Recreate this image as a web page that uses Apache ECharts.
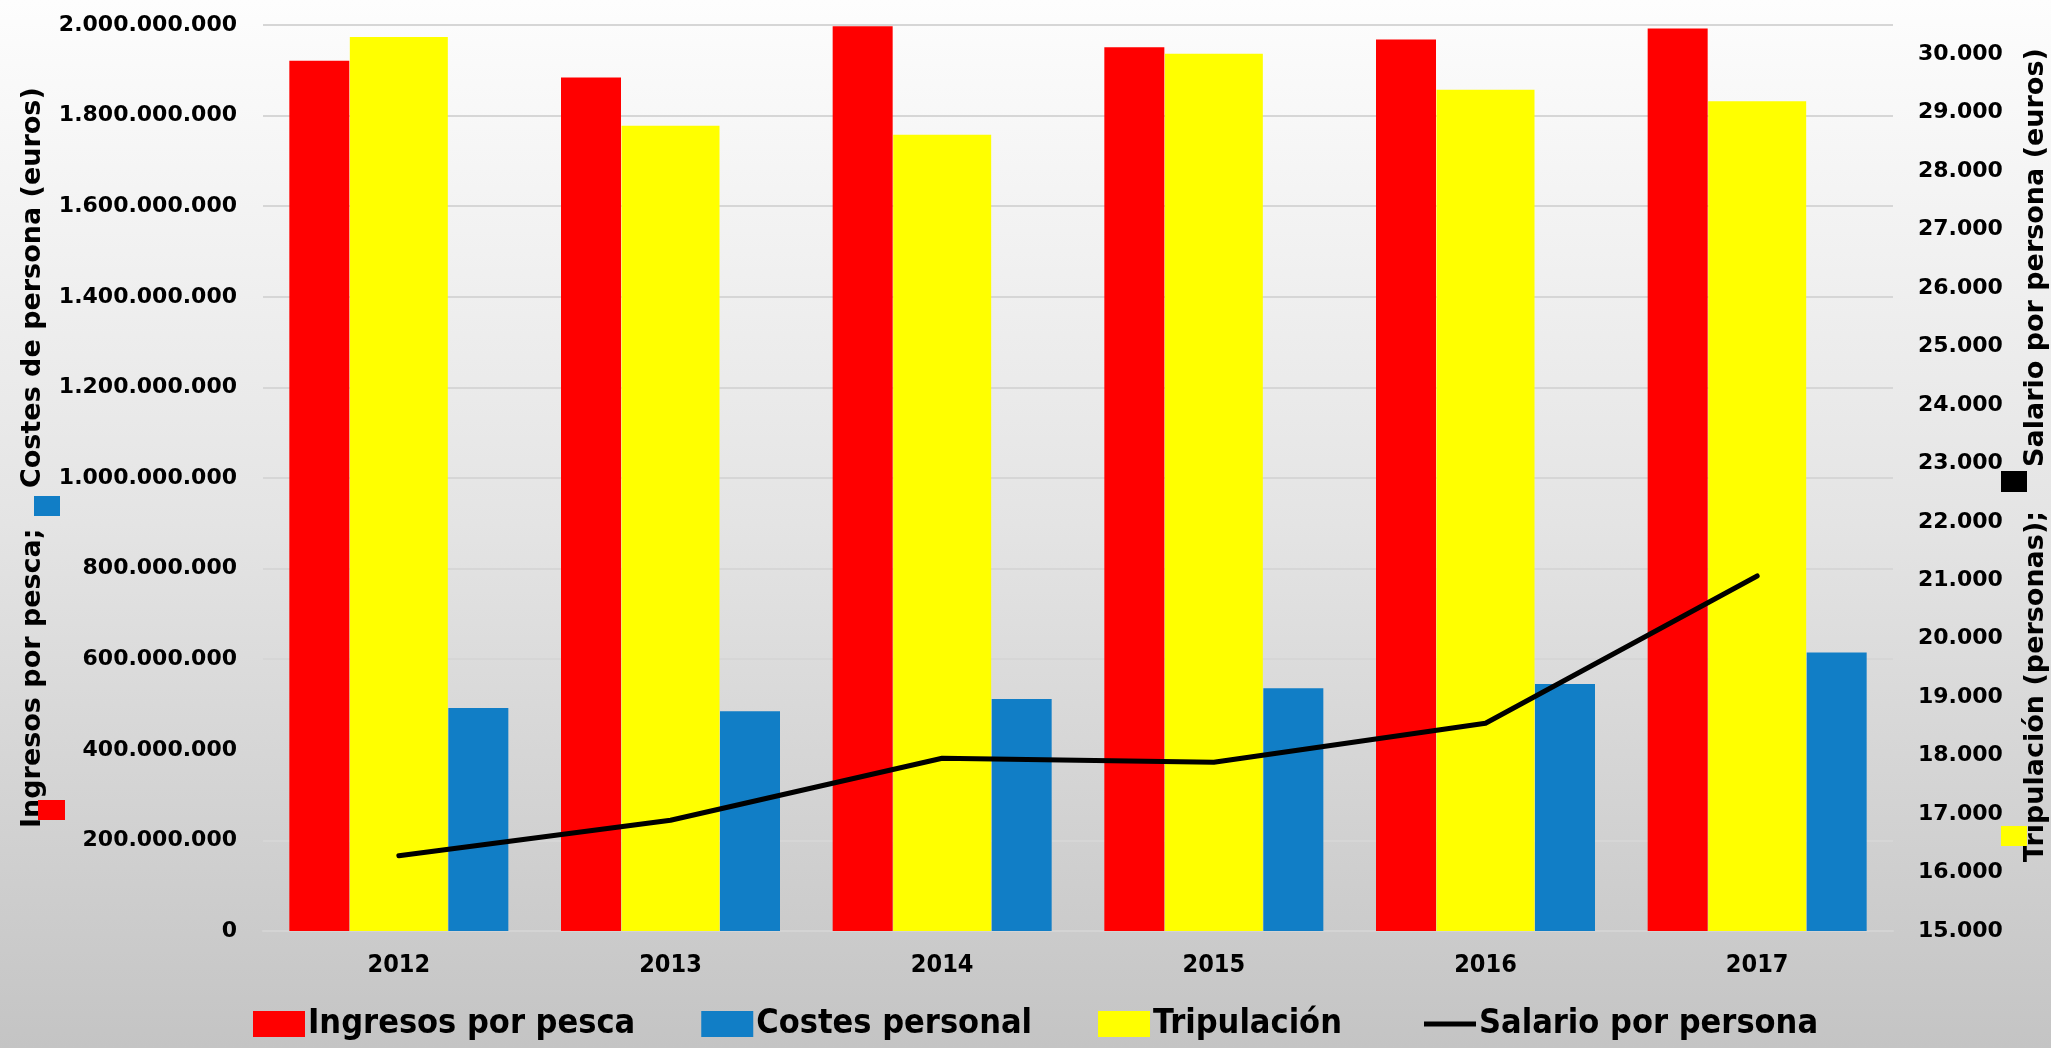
<!DOCTYPE html>
<html>
<head>
<meta charset="utf-8">
<script src="https://cdn.jsdelivr.net/npm/echarts@6/dist/echarts.min.js"></script>
<style>
  html, body { margin: 0; padding: 0; }
  #main { width: 2051px; height: 1048px; }
</style>
</head>
<body>
<div id="main"></div>
<script>
// datos
var years = ['2012', '2013', '2014', '2015', '2016', '2017'];
var ingresos = [1921000000, 1884000000, 1997000000, 1951000000, 1968000000, 1992000000];
var costes = [492000000, 485000000, 512000000, 536000000, 545000000, 615000000];
var tripulacion = [30295, 28778, 28624, 30010, 29394, 29195];
var salario = [16288, 16894, 17955, 17886, 18553, 21074];

var wideFont = "'DejaVu Sans', sans-serif";
var narrowFont = "'DejaVu Sans Condensed', 'Liberation Sans Narrow', 'DejaVu Sans', sans-serif";

function puntos(v) {
    return String(v).replace(/\B(?=(\d{3})+(?!\d))/g, '.');
}

var chart = echarts.init(document.getElementById('main'));

var legendText = { fontFamily: narrowFont, fontWeight: 'bold', fontSize: 34, color: '#000', padding: [0, 0, 0, -2] };

var option = {
    backgroundColor: new echarts.graphic.LinearGradient(0, 0, 0, 1, [
        { offset: 0, color: '#fdfdfd' },
        { offset: 0.5, color: '#e4e4e4' },
        { offset: 1, color: '#c4c4c4' }
    ]),
    animation: false,
    grid: { left: 263, right: 158, top: 25, bottom: 117 },
    legend: [{
        left: 248,
        top: 1002,
        itemWidth: 52,
        itemHeight: 26,
        itemGap: 66,
        textStyle: legendText,
        data: [
            { name: 'Ingresos por pesca', icon: 'rect' },
            { name: 'Costes personal', icon: 'rect' },
            { name: 'Tripulación', icon: 'rect' }
        ]
    }, {
        left: 1419,
        top: 1002,
        itemWidth: 52,
        itemHeight: 5,
        textStyle: legendText,
        data: [{ name: 'Salario por persona', icon: 'rect', itemStyle: { color: '#000' } }]
    }],
    xAxis: [{
        type: 'category',
        data: years,
        axisLine: { lineStyle: { color: '#d4d4d4', width: 2 } },
        axisTick: { show: false },
        axisLabel: { fontFamily: narrowFont, fontWeight: 'bold', fontSize: 25, color: '#000', margin: 22 }
    }, {
        type: 'category',
        data: years,
        show: false
    }],
    yAxis: [{
        type: 'value',
        min: 0,
        max: 2000000000,
        interval: 200000000,
        axisLine: { show: false },
        axisTick: { show: false },
        splitLine: { lineStyle: { color: '#d6d6d6', width: 2 } },
        axisLabel: { fontFamily: wideFont, fontWeight: 'bold', fontSize: 22, color: '#000', margin: 26, formatter: puntos }
    }, {
        type: 'value',
        min: 15000,
        max: 30500,
        interval: 1000,
        position: 'right',
        axisLine: { show: false },
        axisTick: { show: false },
        splitLine: { show: false },
        axisLabel: { fontFamily: wideFont, fontWeight: 'bold', fontSize: 22, color: '#000', margin: 25, showMaxLabel: false, formatter: puntos }
    }],
    series: [{
        name: 'Ingresos por pesca',
        type: 'bar',
        data: ingresos,
        barWidth: 60,
        barGap: '165%',
        itemStyle: { color: '#ff0000' }
    }, {
        name: 'Costes personal',
        type: 'bar',
        data: costes,
        barWidth: 60,
        barGap: '165%',
        itemStyle: { color: '#117ec6' }
    }, {
        name: 'Tripulación',
        type: 'bar',
        xAxisIndex: 1,
        yAxisIndex: 1,
        data: tripulacion,
        barWidth: 98,
        clip: true,
        itemStyle: { color: '#ffff00' }
    }, {
        name: 'Salario por persona',
        type: 'line',
        yAxisIndex: 1,
        data: salario,
        symbol: 'none',
        lineStyle: { color: '#000', width: 5, cap: 'round', join: 'round' },
        itemStyle: { color: '#000' },
        z: 5
    }],
    graphic: [
        // titulos de los ejes (Excel mete las claves de color dentro)
        {
            type: 'text', x: 33, y: 828, rotation: Math.PI / 2,
            style: { text: 'Ingresos por pesca;', font: 'bold 27px ' + wideFont, fill: '#000', align: 'left', verticalAlign: 'middle' }
        },
        {
            type: 'text', x: 33, y: 488, rotation: Math.PI / 2,
            style: { text: 'Costes de persona (euros)', font: 'bold 27px ' + wideFont, fill: '#000', align: 'left', verticalAlign: 'middle' }
        },
        { type: 'rect', shape: { x: 34, y: 496, width: 26, height: 20 }, style: { fill: '#117ec6' } },
        { type: 'rect', shape: { x: 38, y: 800, width: 27, height: 20 }, style: { fill: '#ff0000' } },
        {
            type: 'text', x: 2036, y: 862, rotation: Math.PI / 2,
            style: { text: 'Tripulación (personas);', font: 'bold 27px ' + wideFont, fill: '#000', align: 'left', verticalAlign: 'middle' }
        },
        {
            type: 'text', x: 2036, y: 467, rotation: Math.PI / 2,
            style: { text: 'Salario por persona (euros)', font: 'bold 27px ' + wideFont, fill: '#000', align: 'left', verticalAlign: 'middle' }
        },
        { type: 'rect', shape: { x: 2001, y: 471, width: 26, height: 21 }, style: { fill: '#000' } },
        { type: 'rect', shape: { x: 2001, y: 826, width: 26, height: 20 }, style: { fill: '#ffff00' } }
    ]
};

chart.setOption(option);
</script>
</body>
</html>
